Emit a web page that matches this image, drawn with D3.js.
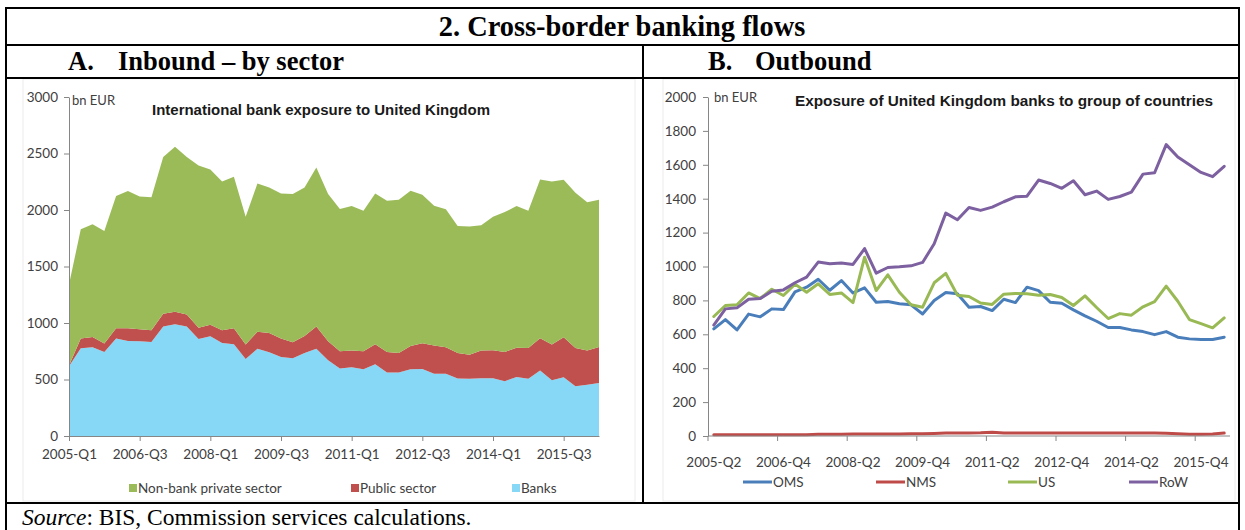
<!DOCTYPE html>
<html><head><meta charset="utf-8">
<script src="https://cdnjs.cloudflare.com/ajax/libs/d3/7.8.5/d3.min.js"></script>
<style>
html,body{margin:0;padding:0;background:#fff;}
svg{display:block;}
</style></head>
<body>
<svg id="c" width="1245" height="530"></svg>
<script>
// ---------- DATA ----------
const quartersA = ["2005-Q1","2005-Q2","2005-Q3","2005-Q4","2006-Q1","2006-Q2","2006-Q3","2006-Q4",
"2007-Q1","2007-Q2","2007-Q3","2007-Q4","2008-Q1","2008-Q2","2008-Q3","2008-Q4",
"2009-Q1","2009-Q2","2009-Q3","2009-Q4","2010-Q1","2010-Q2","2010-Q3","2010-Q4",
"2011-Q1","2011-Q2","2011-Q3","2011-Q4","2012-Q1","2012-Q2","2012-Q3","2012-Q4",
"2013-Q1","2013-Q2","2013-Q3","2013-Q4","2014-Q1","2014-Q2","2014-Q3","2014-Q4",
"2015-Q1","2015-Q2","2015-Q3","2015-Q4","2016-Q1","2016-Q2"];
const tickLabelsA = ["2005-Q1","2006-Q3","2008-Q1","2009-Q3","2011-Q1","2012-Q3","2014-Q1","2015-Q3"];
const banks = [618,776,785,744,862,841,838,832,968,988,968,859,882,824,812,682,773,741,700,688,735,773,671,597,609,591,635,562,562,591,594,550,550,509,506,512,512,485,523,506,579,494,521,441,453,468];
const publicSector = [5,86,91,74,91,112,106,103,114,112,108,100,103,111,141,127,150,171,162,141,150,195,167,153,147,159,177,182,173,206,227,250,235,226,212,244,247,259,259,273,286,315,352,338,303,320];
const nonBank = [718,967,997,997,1170,1215,1176,1177,1388,1459,1394,1435,1374,1318,1341,1132,1312,1288,1285,1312,1315,1408,1303,1259,1279,1244,1335,1338,1356,1373,1314,1238,1221,1124,1135,1109,1182,1238,1253,1215,1405,1444,1395,1374,1312,1303];
const yTicksA = [0,500,1000,1500,2000,2500,3000];

const quartersB = ["2005-Q2","2005-Q3","2005-Q4","2006-Q1","2006-Q2","2006-Q3","2006-Q4",
"2007-Q1","2007-Q2","2007-Q3","2007-Q4","2008-Q1","2008-Q2","2008-Q3","2008-Q4",
"2009-Q1","2009-Q2","2009-Q3","2009-Q4","2010-Q1","2010-Q2","2010-Q3","2010-Q4",
"2011-Q1","2011-Q2","2011-Q3","2011-Q4","2012-Q1","2012-Q2","2012-Q3","2012-Q4",
"2013-Q1","2013-Q2","2013-Q3","2013-Q4","2014-Q1","2014-Q2","2014-Q3","2014-Q4",
"2015-Q1","2015-Q2","2015-Q3","2015-Q4","2016-Q1","2016-Q2"];
const tickLabelsB = ["2005-Q2","2006-Q4","2008-Q2","2009-Q4","2011-Q2","2012-Q4","2014-Q2","2015-Q4"];
const oms = [632,687,626,719,703,750,746,850,878,925,860,917,844,874,789,793,780,774,720,799,846,839,760,764,740,807,787,878,858,789,783,744,709,677,640,640,626,616,598,616,583,573,569,569,583];
const nms = [7,7,7,7,7,7,7,8,8,10,11,11,12,12,12,12,12,13,13,15,17,17,18,19,22,17,17,17,17,17,17,17,17,17,17,17,17,17,17,16,14,11,11,12,17];
const us = [705,770,774,844,811,866,829,896,848,898,835,844,787,1055,858,951,848,774,760,904,959,831,823,785,776,837,841,839,831,835,817,770,827,758,693,722,713,762,793,884,795,687,663,638,697];
const row = [654,750,756,807,811,854,862,904,937,1026,1016,1020,1012,1106,961,994,998,1004,1024,1134,1315,1276,1348,1331,1350,1382,1411,1415,1510,1490,1461,1506,1423,1445,1396,1413,1439,1545,1553,1719,1646,1600,1555,1530,1591];
const yTicksB = [0,200,400,600,800,1000,1200,1400,1600,1800,2000];

const seriesA = [
  {key:"banks", name:"Banks", color:"#87D8F6", values:banks},
  {key:"pub", name:"Public sector", color:"#C0504D", values:publicSector},
  {key:"nonbank", name:"Non-bank private sector", color:"#9BBB59", values:nonBank}
];
const seriesB = [
  {name:"OMS", color:"#4A7EBB", values:oms},
  {name:"NMS", color:"#BE4B48", values:nms},
  {name:"US", color:"#98B954", values:us},
  {name:"RoW", color:"#7D60A0", values:row}
];

// ---------- DRAW ----------
const svg = d3.select("#c");
const serif = "'Liberation Serif','Times New Roman',serif";
const sans = "Lato,'Open Sans',sans-serif";
const axisCol = "#868686", txtCol = "#404040";

// faint chart object borders
svg.append("rect").attr("x",23).attr("y",79).attr("width",612).attr("height",422)
  .attr("fill","none").attr("stroke","#ececec");
svg.append("rect").attr("x",663).attr("y",79).attr("width",572).attr("height",422)
  .attr("fill","none").attr("stroke","#ececec");

// ---- Panel A ----
const xA = d3.scalePoint().domain(quartersA).range([69,599]);
const yA = d3.scaleLinear().domain([0,3000]).range([436,97]);
const tableA = quartersA.map((q,i)=>({q, banks:banks[i], pub:publicSector[i], nonbank:nonBank[i]}));
const stackA = d3.stack().keys(seriesA.map(s=>s.key))(tableA);
const areaA = d3.area().x(d=>xA(d.data.q)).y0(d=>yA(d[0])).y1(d=>yA(d[1]));
svg.append("g").selectAll("path").data(stackA).join("path")
  .attr("d",areaA).attr("fill",(d,i)=>seriesA[i].color);

const gyA = svg.append("g").attr("transform","translate(69,0)")
  .call(d3.axisLeft(yA).tickValues(yTicksA).tickSize(5).tickSizeOuter(0).tickFormat(d3.format("d")).tickPadding(6));
gyA.select(".domain").attr("stroke",axisCol);
gyA.selectAll(".tick line").attr("stroke",axisCol);
gyA.selectAll(".tick text").attr("font-family",sans).attr("font-size",13.5).attr("fill",txtCol);

const gxA = svg.append("g").attr("transform","translate(0,436)")
  .call(d3.axisBottom(xA).tickValues(tickLabelsA).tickSize(5).tickSizeOuter(0).tickPadding(8));
gxA.select(".domain").attr("stroke",axisCol);
gxA.selectAll(".tick line").attr("stroke",axisCol);
gxA.selectAll(".tick text").attr("font-family",sans).attr("font-size",13.5).attr("fill",txtCol);

svg.append("text").attr("x",72).attr("y",105).text("bn EUR")
  .attr("font-family",sans).attr("font-size",13).attr("fill",txtCol);
svg.append("text").attr("x",152).attr("y",115).text("International bank exposure to United Kingdom")
  .attr("font-family","'Liberation Sans',Arial,sans-serif").attr("font-weight","bold").attr("font-size",14)
  .attr("textLength",338).attr("lengthAdjust","spacingAndGlyphs").attr("fill","#1a1a1a");

// legend A (order: Non-bank, Public, Banks)
const legA = [{s:seriesA[2],x:129},{s:seriesA[1],x:351},{s:seriesA[0],x:512}];
legA.forEach(l=>{
  svg.append("rect").attr("x",l.x).attr("y",484).attr("width",8).attr("height",8).attr("fill",l.s.color);
  svg.append("text").attr("x",l.x+9).attr("y",493).text(l.s.name)
    .attr("font-family",sans).attr("font-size",13.5).attr("fill",txtCol);
});

// ---- Panel B ----
const xB = d3.scaleBand().domain(quartersB).range([708,1230]).padding(0);
const cx = q => xB(q)+xB.bandwidth()/2;
const yB = d3.scaleLinear().domain([0,2000]).range([436,97]);
const line = d3.line().x((d,i)=>cx(quartersB[i])).y(d=>yB(d));
svg.append("g").selectAll("path").data(seriesB).join("path")
  .attr("d",d=>line(d.values)).attr("fill","none").attr("stroke",d=>d.color)
  .attr("stroke-width",3).attr("stroke-linejoin","round").attr("stroke-linecap","round");

const gyB = svg.append("g").attr("transform","translate(708,0)")
  .call(d3.axisLeft(yB).tickValues(yTicksB).tickSize(5).tickSizeOuter(0).tickFormat(d3.format("d")).tickPadding(7));
gyB.select(".domain").attr("stroke",axisCol);
gyB.selectAll(".tick line").attr("stroke",axisCol);
gyB.selectAll(".tick text").attr("font-family",sans).attr("font-size",13.5).attr("fill",txtCol);

// x axis line + tick marks at category boundaries
const gxB = svg.append("g");
gxB.append("line").attr("x1",708).attr("x2",1230).attr("y1",436).attr("y2",436).attr("stroke",axisCol);
gxB.selectAll("line.tk").data(tickLabelsB).join("line").attr("class","tk")
  .attr("x1",d=>xB(d)).attr("x2",d=>xB(d)).attr("y1",436).attr("y2",441).attr("stroke",axisCol);
gxB.selectAll("text").data(tickLabelsB).join("text")
  .attr("x",d=>cx(d)).attr("y",467).attr("text-anchor","middle").text(d=>d)
  .attr("font-family",sans).attr("font-size",13.5).attr("fill",txtCol);

svg.append("text").attr("x",714).attr("y",102).text("bn EUR")
  .attr("font-family",sans).attr("font-size",13).attr("fill",txtCol);
svg.append("text").attr("x",795).attr("y",106).text("Exposure of United Kingdom banks to group of countries")
  .attr("font-family","'Liberation Sans',Arial,sans-serif").attr("font-weight","bold").attr("font-size",14)
  .attr("textLength",418).attr("lengthAdjust","spacingAndGlyphs").attr("fill","#1a1a1a");

const legB = [{s:seriesB[0],x:743},{s:seriesB[1],x:876},{s:seriesB[2],x:1008},{s:seriesB[3],x:1129}];
legB.forEach(l=>{
  svg.append("line").attr("x1",l.x).attr("x2",l.x+29).attr("y1",482).attr("y2",482)
    .attr("stroke",l.s.color).attr("stroke-width",3);
  svg.append("text").attr("x",l.x+30).attr("y",487).text(l.s.name)
    .attr("font-family",sans).attr("font-size",13.5).attr("fill",txtCol);
});

// ---- Table frame ----
const frame = svg.append("g").attr("stroke","#000").attr("stroke-width",2).attr("fill","none");
frame.append("line").attr("x1",6).attr("x2",1240).attr("y1",8).attr("y2",8);
frame.append("line").attr("x1",6).attr("x2",1240).attr("y1",45).attr("y2",45);
frame.append("line").attr("x1",6).attr("x2",1240).attr("y1",78).attr("y2",78);
frame.append("line").attr("x1",6).attr("x2",1240).attr("y1",503).attr("y2",503);
frame.append("line").attr("x1",6).attr("x2",6).attr("y1",7).attr("y2",530);
frame.append("line").attr("x1",1239).attr("x2",1239).attr("y1",7).attr("y2",530);
frame.append("line").attr("x1",643).attr("x2",643).attr("y1",45).attr("y2",503);

svg.append("text").attr("x",622).attr("y",36).attr("text-anchor","middle")
  .text("2. Cross-border banking flows")
  .attr("font-family",serif).attr("font-weight","bold").attr("font-size",28.4);
svg.append("text").attr("x",68).attr("y",70).text("A.")
  .attr("font-family",serif).attr("font-weight","bold").attr("font-size",26.5);
svg.append("text").attr("x",118).attr("y",70).text("Inbound – by sector")
  .attr("font-family",serif).attr("font-weight","bold").attr("font-size",26.5);
svg.append("text").attr("x",708).attr("y",70).text("B.")
  .attr("font-family",serif).attr("font-weight","bold").attr("font-size",26.5);
svg.append("text").attr("x",755).attr("y",70).text("Outbound")
  .attr("font-family",serif).attr("font-weight","bold").attr("font-size",26.5);

const src = svg.append("text").attr("x",22).attr("y",525)
  .attr("font-family",serif).attr("font-size",23.5);
src.append("tspan").attr("font-style","italic").text("Source");
src.append("tspan").text(": BIS, Commission services calculations.");
</script>
</body></html>
